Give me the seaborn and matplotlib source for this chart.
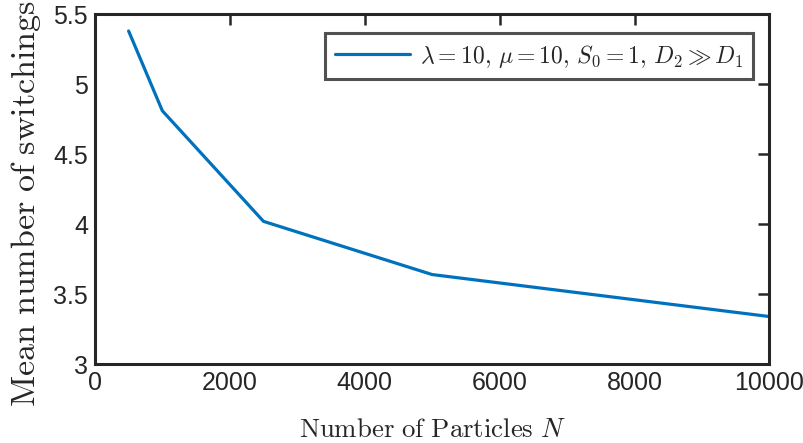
import matplotlib
matplotlib.use("Agg")
from matplotlib import pyplot as plt
import seaborn as sns
import pandas as pd

# values
particles = [500, 1000, 2500, 5000, 10000]
mean_switchings = [5.38, 4.81, 4.02, 3.64, 3.34]
x_ticks = [0, 2000, 4000, 6000, 8000, 10000]
y_ticks = [3, 3.5, 4, 4.5, 5, 5.5]
y_tick_labels = ["3", "3.5", "4", "4.5", "5", "5.5"]
series_label = r"$\lambda=10,\,\mu=10,\,S_0=1,\,D_2\gg D_1$"

df = pd.DataFrame({"N": particles, "switchings": mean_switchings})

sns.set_style("white")
plt.rcParams["font.family"] = ["Liberation Sans Narrow", "Liberation Sans", "DejaVu Sans"]
plt.rcParams["mathtext.fontset"] = "cm"

fig = plt.figure(figsize=(8.04, 4.43), dpi=100)
ax = fig.add_axes([0.118, 0.178, 0.839, 0.790])

sns.lineplot(data=df, x="N", y="switchings", color="#0072BD",
             linewidth=2.3, label=series_label, ax=ax)

ax.set_xlim(0, 10000)
ax.set_ylim(3, 5.5)
ax.set_xticks(x_ticks)
ax.set_xticklabels([str(t) for t in x_ticks])
ax.set_yticks(y_ticks)
ax.set_yticklabels(y_tick_labels)
ax.tick_params(direction="in", length=8, width=1.8, labelsize=18,
               top=True, right=True, colors="#262626", pad=5)

for s in ax.spines.values():
    s.set_linewidth(2.2)
    s.set_color("#262626")

ax.set_xlabel(r"$\mathrm{Number\ of\ Particles}\ N$", fontsize=19.3, color="#262626", labelpad=16)
ax.set_ylabel(r"$\mathrm{Mean\ number\ of\ switchings}$", fontsize=24.5, color="#262626")
ax.yaxis.set_label_coords(-0.077, 0.46)

leg = ax.legend(loc="upper right", fontsize=17, frameon=True, fancybox=False,
                handlelength=3.2, handletextpad=0.4, borderpad=0.4, borderaxespad=0,
                bbox_to_anchor=(0.975, 0.946))
leg.get_frame().set_edgecolor("#262626")
leg.get_frame().set_linewidth(2.2)

fig.savefig("out.png", dpi=100)
